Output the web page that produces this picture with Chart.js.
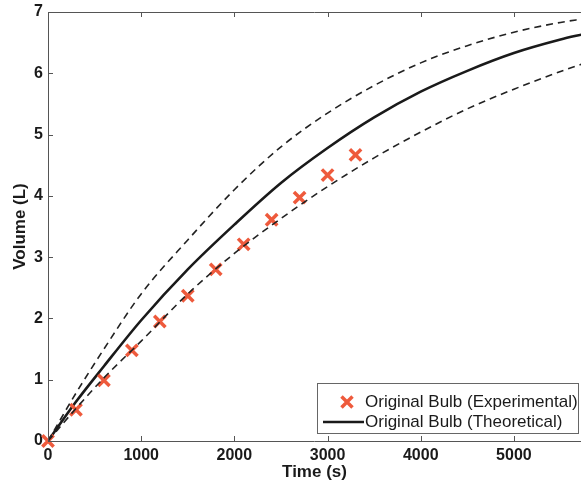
<!DOCTYPE html>
<html>
<head>
<meta charset="utf-8">
<script src="https://cdn.jsdelivr.net/npm/chart.js@4/dist/chart.umd.min.js"></script>
<style>
  html, body { margin: 0; padding: 0; background: #fff; }
  #wrap { width: 581px; height: 483px; position: relative; }
</style>
</head>
<body>
<div id="wrap"><canvas id="c" width="581" height="483"></canvas></div>
<script>
// ---- data ----
const expTime   = [0, 300, 600, 900, 1200, 1500, 1800, 2100, 2400, 2700, 3000, 3300];
const expVolume = [0, 0.51, 0.99, 1.48, 1.95, 2.37, 2.80, 3.21, 3.61, 3.97, 4.34, 4.67];

const curveTime   = [0, 300, 600, 1000, 1500, 2000, 2500, 3000, 3500, 4000, 4500, 5000, 5500, 5750];
const theoVolume  = [0, 0.64, 1.22, 1.97, 2.80, 3.53, 4.21, 4.78, 5.28, 5.70, 6.04, 6.33, 6.55, 6.64];
const upperVolume = [0, 0.78, 1.50, 2.40, 3.28, 4.10, 4.80, 5.35, 5.80, 6.17, 6.45, 6.67, 6.83, 6.89];
const lowerVolume = [0, 0.53, 1.03, 1.63, 2.40, 3.06, 3.63, 4.15, 4.62, 5.04, 5.42, 5.74, 6.03, 6.16];

const xTickValues = [0, 1000, 2000, 3000, 4000, 5000];
const yTickValues = [0, 1, 2, 3, 4, 5, 6, 7];
const legendLabels = ['Original Bulb (Experimental)', 'Original Bulb (Theoretical)'];

const toPts = (xs, ys) => xs.map((v, i) => ({ x: v, y: ys[i] }));
const MARK = '#ee5a3c';
const INK = '#1a1a1a';
const FONT = '"Liberation Sans", Arial, sans-serif';

const framePlugin = {
  id: 'frame',
  afterDatasetsDraw(chart) {
    const { ctx, chartArea: a, scales: { x, y } } = chart;
    ctx.save();
    ctx.strokeStyle = '#555';
    ctx.lineWidth = 1;
    ctx.beginPath();
    ctx.moveTo(a.left + 0.5, a.top); ctx.lineTo(a.left + 0.5, a.bottom);
    ctx.moveTo(a.left, a.bottom + 0.5); ctx.lineTo(a.right, a.bottom + 0.5);
    ctx.moveTo(a.left, a.top + 0.5); ctx.lineTo(a.right, a.top + 0.5);
    xTickValues.forEach(v => {
      const px = Math.round(x.getPixelForValue(v)) + 0.5;
      ctx.moveTo(px, a.bottom); ctx.lineTo(px, a.bottom - 5);
      ctx.moveTo(px, a.top); ctx.lineTo(px, a.top + 5);
    });
    yTickValues.forEach(v => {
      const py = Math.round(y.getPixelForValue(v)) + 0.5;
      ctx.moveTo(a.left, py); ctx.lineTo(a.left + 5, py);
    });
    ctx.stroke();
    ctx.restore();
  },
  afterDraw(chart) {
    const { ctx } = chart;
    ctx.save();
    const bx = 317.5, by = 383.5, bw = 261, bh = 50;
    ctx.fillStyle = '#fff';
    ctx.fillRect(bx, by, bw, bh);
    ctx.strokeStyle = '#666';
    ctx.lineWidth = 1;
    ctx.strokeRect(bx, by, bw, bh);
    const mx = 347, my = 402, s = 5.5;
    ctx.strokeStyle = MARK;
    ctx.lineWidth = 3.5;
    ctx.beginPath();
    ctx.moveTo(mx - s, my - s); ctx.lineTo(mx + s, my + s);
    ctx.moveTo(mx - s, my + s); ctx.lineTo(mx + s, my - s);
    ctx.stroke();
    ctx.strokeStyle = INK;
    ctx.lineWidth = 2.5;
    ctx.beginPath();
    ctx.moveTo(323, 422); ctx.lineTo(364, 422);
    ctx.stroke();
    ctx.fillStyle = INK;
    ctx.font = '17px ' + FONT;
    ctx.textBaseline = 'middle';
    ctx.textAlign = 'left';
    ctx.fillText(legendLabels[0], 365, 402);
    ctx.fillText(legendLabels[1], 365, 422);
    ctx.restore();
  }
};

new Chart(document.getElementById('c'), {
  type: 'scatter',
  data: {
    datasets: [
      {
        label: 'Upper bound',
        data: toPts(curveTime, upperVolume),
        showLine: true, borderColor: '#222', borderWidth: 1.6, borderDash: [7, 5],
        pointRadius: 0, cubicInterpolationMode: 'monotone', order: 0
      },
      {
        label: 'Lower bound',
        data: toPts(curveTime, lowerVolume),
        showLine: true, borderColor: '#222', borderWidth: 1.6, borderDash: [7, 5],
        pointRadius: 0, cubicInterpolationMode: 'monotone', order: 0
      },
      {
        label: legendLabels[0],
        data: toPts(expTime, expVolume),
        showLine: false, pointStyle: 'crossRot', pointRadius: 8, borderWidth: 3.5,
        borderColor: MARK, backgroundColor: MARK, clip: false, order: 1
      },
      {
        label: legendLabels[1],
        data: toPts(curveTime, theoVolume),
        showLine: true, borderColor: INK, borderWidth: 2.6,
        pointRadius: 0, cubicInterpolationMode: 'monotone', order: 2
      }
    ]
  },
  options: {
    responsive: false,
    animation: false,
    layout: { autoPadding: false, padding: { top: 12, right: 0, bottom: 0, left: 0 } },
    plugins: { legend: { display: false }, tooltip: { enabled: false } },
    scales: {
      x: {
        type: 'linear', min: 0, max: 5720,
        afterFit: s => { s.height = 42; s.paddingLeft = 0; s.paddingRight = 0; },
        afterBuildTicks: s => { s.ticks = xTickValues.map(v => ({ value: v })); },
        grid: { display: false, drawTicks: false },
        border: { display: false },
        ticks: { padding: 5, color: INK, callback: v => String(v),
                 font: { family: FONT, size: 16, weight: 'bold' } },
        title: { display: true, text: 'Time (s)', color: INK, padding: { top: 0, bottom: 0 },
                 font: { family: FONT, size: 17, weight: 'bold' } }
      },
      y: {
        type: 'linear', min: 0, max: 7,
        afterFit: s => { s.width = 48; s.paddingTop = 0; s.paddingBottom = 0; },
        afterBuildTicks: s => { s.ticks = yTickValues.map(v => ({ value: v })); },
        grid: { display: false, drawTicks: false },
        border: { display: false },
        ticks: { padding: 5, color: INK, callback: v => String(v),
                 font: { family: FONT, size: 16, weight: 'bold' } },
        title: { display: true, text: 'Volume (L)', color: INK, padding: { top: 10, bottom: 0 },
                 font: { family: FONT, size: 17, weight: 'bold' } }
      }
    }
  },
  plugins: [framePlugin]
});
</script>
</body>
</html>
